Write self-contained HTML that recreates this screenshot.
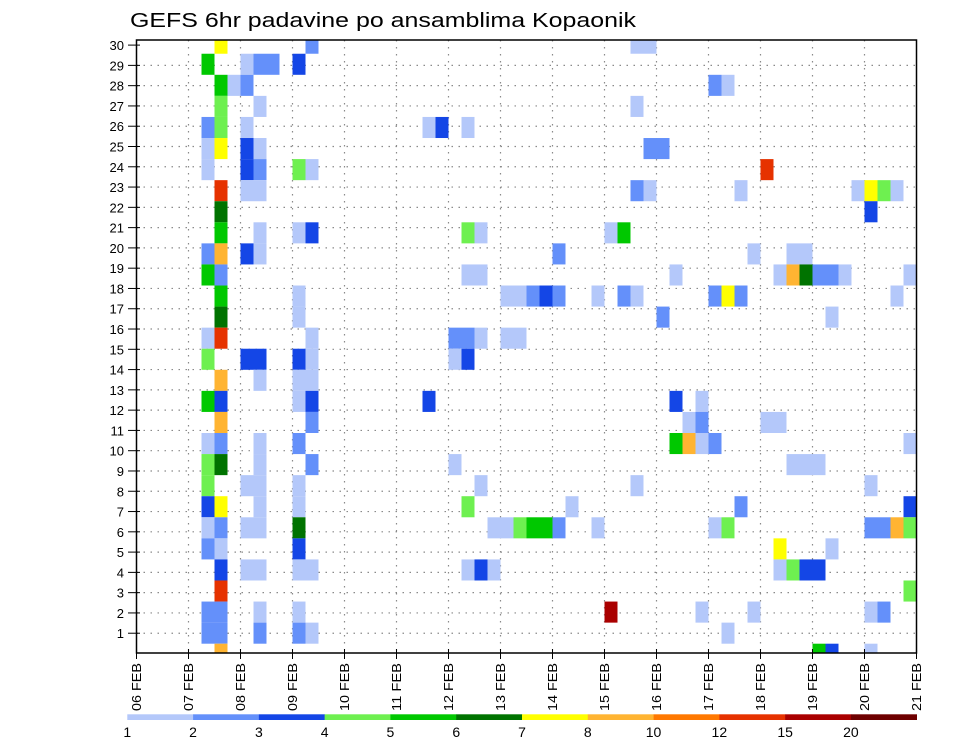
<!DOCTYPE html>
<html><head><meta charset="utf-8"><style>
html,body{margin:0;padding:0;background:#fff;}
svg{display:block;font-family:"Liberation Sans",sans-serif;}
</style></head><body>
<svg id="chart" width="960" height="742" viewBox="0 0 960 742">
<text x="130" y="27" font-size="20" textLength="506" lengthAdjust="spacingAndGlyphs" fill="#000">GEFS 6hr padavine po ansamblima Kopaonik</text>
<g id="grid"></g>
<g id="cells"></g>
<rect x="136.5" y="40" width="780" height="613" fill="none" stroke="#000" stroke-width="1.5"/>
<g id="axes"></g>
<g id="legend"></g>
</svg>
<script>
// ---- data ----
const dayLabels = ["06 FEB","07 FEB","08 FEB","09 FEB","10 FEB","11 FEB","12 FEB","13 FEB","14 FEB","15 FEB","16 FEB","17 FEB","18 FEB","19 FEB","20 FEB","21 FEB"];
const memberTicks = [1,2,3,4,5,6,7,8,9,10,11,12,13,14,15,16,17,18,19,20,21,22,23,24,25,26,27,28,29,30];
const levelLabels = ["1","2","3","4","5","6","7","8","10","12","15","20"];
const levels = [1,2,3,4,5,6,7,8,10,12,15,20];
const levelColors = ["#b4c8fa","#6490fa","#1446e6","#6ef050","#00c800","#007300","#ffff00","#ffb432","#ff7800","#e63200","#aa0000","#6e0000"];
// members (row index), time steps (6h column index), precipitation (mm)
const cellRows = [
29,29,29,29,
28,28,28,28,28,
27,27,27,27,27,
26,26,26,
25,25,25,25,25,25,
24,24,24,24,24,24,
23,23,23,23,23,23,
22,22,22,22,22,22,22,22,22,22,
21,21,
20,20,20,20,20,20,20,20,
19,19,19,19,19,19,19,19,
18,18,18,18,18,18,18,18,18,18,18,18,
17,17,17,17,17,17,17,17,17,17,17,17,17,17,
16,16,16,16,
15,15,15,15,15,15,15,15,
14,14,14,14,14,14,14,
13,13,13,13,
12,12,12,12,12,12,12,
11,11,11,11,11,11,
10,10,10,10,10,10,10,10,10,
9,9,9,9,9,9,9,9,
8,8,8,8,8,8,8,
7,7,7,7,7,7,7,7,
6,6,6,6,6,6,6,6,6,6,6,6,6,6,6,6,6,6,
5,5,5,5,5,
4,4,4,4,4,4,4,4,4,4,4,4,
3,3,
2,2,2,2,2,2,2,2,2,
1,1,1,1,1,1,
0,0,0,0];
const cellSteps = [
6,13,38,39,
5,8,9,10,12,
6,7,8,44,45,
6,9,38,
5,6,8,22,23,25,
5,6,8,9,39,40,
5,8,9,12,13,48,
6,8,9,38,39,46,55,56,57,58,
6,56,
6,9,12,13,25,26,36,37,
5,6,8,9,32,47,50,51,
5,6,25,26,41,49,50,51,52,53,54,59,
6,12,28,29,30,31,32,35,37,38,44,45,46,58,
6,12,40,53,
5,6,13,24,25,26,28,29,
5,8,9,12,13,24,25,
6,9,12,13,
5,6,12,13,22,41,43,
6,13,42,43,48,49,
5,6,9,12,41,42,43,44,59,
5,6,9,13,24,50,51,52,
5,8,9,12,26,38,56,
5,6,9,12,25,33,46,59,
5,6,8,9,12,27,28,29,30,31,32,35,44,45,56,57,58,59,
5,6,12,49,53,
6,8,9,12,13,25,26,27,49,50,51,52,
6,59,
5,6,9,12,36,43,47,56,57,
5,6,9,12,13,45,
6,52,53,56];
const cellValues = [
7.5,2.5,1.5,1.5,
5.5,1.5,2.5,2.5,3.5,
5.5,1.5,2.5,2.5,1.5,
4.5,1.5,1.5,
2.5,4.5,1.5,1.5,3.5,1.5,
1.5,7.5,3.5,1.5,2.5,2.5,
1.5,3.5,2.5,4.5,1.5,13,
13,1.5,1.5,2.5,1.5,1.5,1.5,7.5,4.5,1.5,
6.5,3.5,
5.5,1.5,1.5,3.5,4.5,1.5,1.5,5.5,
2.5,9,3.5,1.5,2.5,1.5,1.5,1.5,
5.5,2.5,1.5,1.5,1.5,1.5,9,6.5,2.5,2.5,1.5,1.5,
5.5,1.5,1.5,1.5,2.5,3.5,2.5,1.5,2.5,1.5,2.5,7.5,2.5,1.5,
6.5,1.5,2.5,1.5,
1.5,13,1.5,2.5,2.5,1.5,1.5,1.5,
4.5,3.5,3.5,3.5,1.5,1.5,3.5,
9,1.5,1.5,1.5,
5.5,3.5,1.5,3.5,3.5,3.5,1.5,
9,2.5,1.5,2.5,1.5,1.5,
1.5,2.5,1.5,2.5,5.5,9,1.5,2.5,1.5,
4.5,6.5,1.5,2.5,1.5,1.5,1.5,1.5,
4.5,1.5,1.5,1.5,1.5,1.5,1.5,
3.5,7.5,1.5,1.5,4.5,1.5,2.5,3.5,
1.5,2.5,1.5,1.5,6.5,1.5,1.5,4.5,5.5,5.5,2.5,1.5,1.5,4.5,2.5,2.5,9,4.5,
2.5,1.5,3.5,7.5,1.5,
3.5,1.5,1.5,1.5,1.5,1.5,3.5,1.5,1.5,4.5,3.5,3.5,
13,4.5,
2.5,2.5,1.5,1.5,17,1.5,1.5,1.5,2.5,
2.5,2.5,2.5,2.5,1.5,1.5,
9,5.5,3.5,1.5];

// ---- scales ----
const PL=136.5, PR=916.5, PT=40, PB=653;
const NS=60;
const cw=(PR-PL)/NS;
function xStep(s){return PL+s*cw;}
function xDay(d){return PL+d*4*cw;}
function yLabel(k){return 653.5-k*20.28;}
const rowH=21.07;
function yRowTop(i){return 643.7-i*rowH;}
function colorFor(v){let idx=0;for(let k=0;k<levels.length;k++){if(v>=levels[k])idx=k;}return levelColors[idx];}
const NS_="http://www.w3.org/2000/svg";
function mk(tag,attrs,parent){const e=document.createElementNS(NS_,tag);for(const k in attrs)e.setAttribute(k,attrs[k]);parent.appendChild(e);return e;}

// grid
const grid=document.getElementById('grid');
for(let k=1;k<30;k++){
  const l=mk('line',{x1:PL,x2:PR,y1:yLabel(k),y2:yLabel(k),stroke:'#8a8a8a','stroke-width':1.2,'stroke-dasharray':'1.5,5.5'},grid);
  
  
}
for(let d=1;d<dayLabels.length-1;d++){
  const l=mk('line',{x1:xDay(d),x2:xDay(d),y1:PT,y2:PB,stroke:'#8a8a8a','stroke-width':1.2,'stroke-dasharray':'1.5,5.5'},grid);
  
  
}

// cells
const cells=document.getElementById('cells');
for(let n=0;n<cellValues.length;n++){
  let top=yRowTop(cellRows[n]), bot=top+rowH;
  top=Math.max(top,PT); bot=Math.min(bot,PB);
  const r=mk('rect',{x:xStep(cellSteps[n]).toFixed(2),y:top.toFixed(2),width:cw.toFixed(2),height:(bot-top).toFixed(2),fill:colorFor(cellValues[n])},cells);
  
  
}

// axes
const axes=document.getElementById('axes');
for(let k=0;k<memberTicks.length;k++){
  const y=yLabel(memberTicks[k]);
  const t=mk('line',{x1:128,x2:140,y1:y,y2:y,stroke:'#000','stroke-width':1},axes);
  
  
  const tx=mk('text',{x:124,y:y+5,'font-size':13,'text-anchor':'end',fill:'#000'},axes);
  tx.textContent=String(memberTicks[k]);
  
  
}
for(let d=0;d<dayLabels.length;d++){
  const x=xDay(d);
  const t=mk('line',{x1:x,x2:x,y1:PB-4,y2:PB+6,stroke:'#000','stroke-width':1},axes);
  
  
  const tx=mk('text',{transform:'translate('+(x+4.5)+',711) rotate(-90)','font-size':13,textLength:48,lengthAdjust:'spacingAndGlyphs',fill:'#000'},axes);
  tx.textContent=dayLabels[d];
  
  
}

// legend
const leg=document.getElementById('legend');
const LX0=127.3, LX1=916.7, segW=(LX1-LX0)/levelColors.length;
for(let k=0;k<levelColors.length;k++){
  const r=mk('rect',{x:(LX0+k*segW).toFixed(2),y:714.3,width:(segW+0.3).toFixed(2),height:5.7,fill:levelColors[k]},leg);
  
  
  const t=mk('text',{x:(LX0+k*segW).toFixed(2),y:737,'font-size':14,'text-anchor':'middle',fill:'#000'},leg);
  t.textContent=levelLabels[k];
  
  
}
</script>
</body></html>
